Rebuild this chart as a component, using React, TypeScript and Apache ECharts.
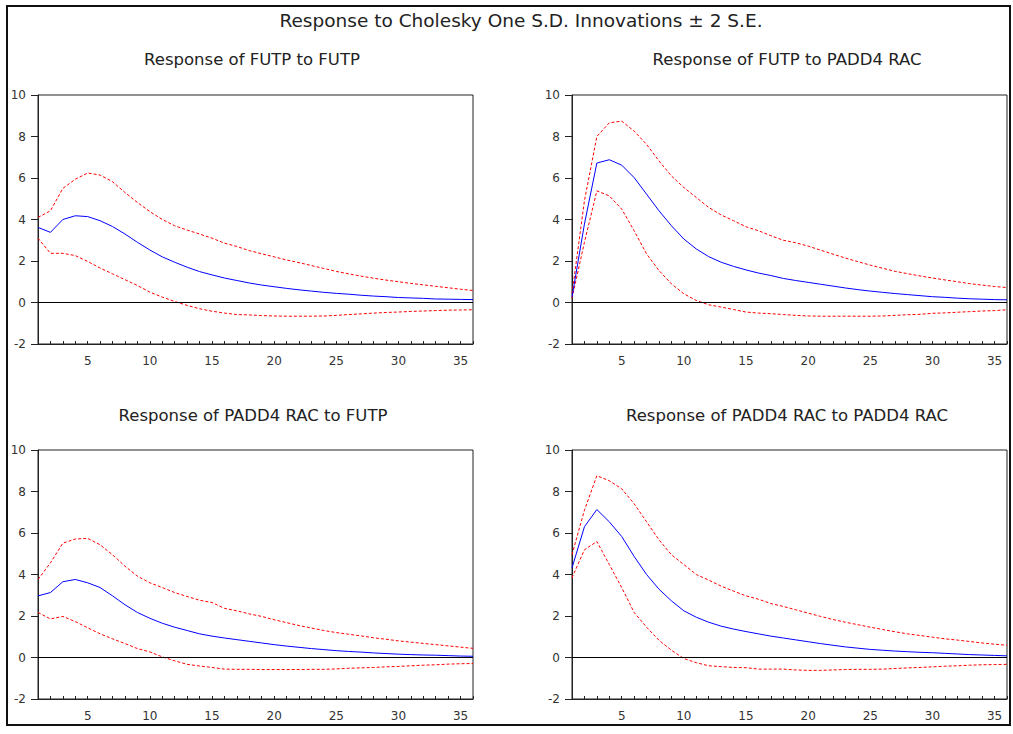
import React, { useEffect, useRef } from "react";
import * as echarts from "echarts";

const periods: number[] = Array.from({ length: 36 }, (_, i) => i + 1);

const mainTitle = "Response to Cholesky One S.D. Innovations \u00b1 2 S.E.";
const panelTitles = [
  "Response of FUTP to FUTP",
  "Response of FUTP to PADD4 RAC",
  "Response of PADD4 RAC to FUTP",
  "Response of PADD4 RAC to PADD4 RAC",
];

const futpFutp = [3.62, 3.38, 4.0, 4.18, 4.14, 3.94, 3.66, 3.3, 2.9, 2.53, 2.2, 1.94, 1.7, 1.49, 1.33, 1.18, 1.06, 0.94,
  0.84, 0.76, 0.68, 0.61, 0.55, 0.49, 0.44, 0.4, 0.35, 0.31, 0.28, 0.24, 0.22, 0.2, 0.17, 0.16, 0.15, 0.14];
const futpFutpUp = [4.1, 4.42, 5.5, 5.94, 6.24, 6.14, 5.82, 5.3, 4.82, 4.38, 4.0, 3.7, 3.49, 3.3, 3.1, 2.86, 2.7, 2.5,
  2.35, 2.2, 2.05, 1.92, 1.78, 1.64, 1.5, 1.38, 1.27, 1.17, 1.08, 1.0, 0.92, 0.85, 0.78, 0.71, 0.64, 0.58];
const futpFutpLo = [3.1, 2.37, 2.37, 2.26, 1.98, 1.66, 1.38, 1.1, 0.82, 0.5, 0.26, 0.05, -0.14, -0.3, -0.42, -0.51, -0.58, -0.6,
  -0.63, -0.65, -0.66, -0.66, -0.66, -0.65, -0.62, -0.58, -0.55, -0.51, -0.48, -0.46, -0.43, -0.41, -0.39, -0.37, -0.36, -0.35];

const futpRac = [0.26, 3.78, 6.72, 6.88, 6.62, 6.02, 5.22, 4.42, 3.7, 3.06, 2.58, 2.21, 1.94, 1.74, 1.57, 1.42, 1.3, 1.16,
  1.06, 0.97, 0.88, 0.79, 0.7, 0.62, 0.55, 0.49, 0.43, 0.38, 0.33, 0.28, 0.25, 0.21, 0.18, 0.16, 0.14, 0.13];
const futpRacUp = [0.42, 4.9, 8.0, 8.66, 8.74, 8.26, 7.62, 6.82, 6.1, 5.54, 5.06, 4.58, 4.22, 3.94, 3.65, 3.46, 3.22, 3.0,
  2.88, 2.72, 2.52, 2.33, 2.14, 1.97, 1.8, 1.65, 1.5, 1.39, 1.28, 1.18, 1.09, 1.0, 0.91, 0.84, 0.77, 0.72];
const futpRacLo = [0.2, 2.9, 5.38, 5.14, 4.5, 3.46, 2.34, 1.54, 0.9, 0.42, 0.1, -0.11, -0.22, -0.34, -0.46, -0.51, -0.54, -0.58,
  -0.62, -0.65, -0.66, -0.66, -0.66, -0.66, -0.66, -0.65, -0.62, -0.59, -0.57, -0.52, -0.5, -0.47, -0.44, -0.41, -0.39, -0.35];

const racFutp = [2.97, 3.13, 3.65, 3.76, 3.6, 3.37, 2.97, 2.54, 2.17, 1.89, 1.65, 1.46, 1.3, 1.14, 1.03, 0.94, 0.86, 0.78,
  0.7, 0.62, 0.55, 0.49, 0.43, 0.38, 0.33, 0.29, 0.26, 0.22, 0.19, 0.16, 0.14, 0.12, 0.11, 0.09, 0.07, 0.06];
const racFutpUp = [3.76, 4.56, 5.51, 5.71, 5.74, 5.43, 4.95, 4.4, 3.92, 3.6, 3.37, 3.13, 2.94, 2.76, 2.65, 2.37, 2.25, 2.1,
  1.98, 1.82, 1.68, 1.54, 1.42, 1.3, 1.2, 1.12, 1.04, 0.95, 0.88, 0.8, 0.74, 0.68, 0.62, 0.56, 0.5, 0.44];
const racFutpLo = [2.17, 1.86, 1.98, 1.73, 1.43, 1.14, 0.9, 0.67, 0.43, 0.27, 0.03, -0.16, -0.33, -0.41, -0.48, -0.56, -0.57, -0.57,
  -0.58, -0.58, -0.58, -0.58, -0.57, -0.57, -0.55, -0.52, -0.5, -0.48, -0.45, -0.43, -0.4, -0.37, -0.35, -0.32, -0.3, -0.29];

const racRac = [4.32, 6.3, 7.13, 6.54, 5.83, 4.87, 4.0, 3.29, 2.73, 2.25, 1.94, 1.7, 1.51, 1.37, 1.25, 1.14, 1.03, 0.94,
  0.85, 0.76, 0.67, 0.59, 0.51, 0.45, 0.39, 0.35, 0.31, 0.28, 0.25, 0.23, 0.2, 0.17, 0.14, 0.12, 0.1, 0.08];
const racRacUp = [4.95, 7.1, 8.76, 8.52, 8.13, 7.41, 6.54, 5.67, 4.95, 4.48, 4.0, 3.73, 3.44, 3.2, 2.97, 2.81, 2.6, 2.46,
  2.3, 2.14, 1.98, 1.83, 1.7, 1.58, 1.46, 1.35, 1.24, 1.14, 1.06, 0.98, 0.9, 0.84, 0.77, 0.7, 0.64, 0.59];
const racRacLo = [3.84, 5.19, 5.59, 4.48, 3.37, 2.17, 1.46, 0.83, 0.35, -0.05, -0.25, -0.4, -0.44, -0.48, -0.49, -0.56, -0.56, -0.56,
  -0.6, -0.62, -0.62, -0.6, -0.58, -0.57, -0.57, -0.56, -0.53, -0.5, -0.48, -0.45, -0.42, -0.4, -0.37, -0.35, -0.34, -0.33];

const yTicks = [-2, 0, 2, 4, 6, 8, 10];

const panels = [
  { resp: futpFutp, up: futpFutpUp, lo: futpFutpLo },
  { resp: futpRac, up: futpRacUp, lo: futpRacLo },
  { resp: racFutp, up: racFutpUp, lo: racFutpLo },
  { resp: racRac, up: racRacUp, lo: racRacLo },
];

const FONT = "'DejaVu Sans', Verdana, sans-serif";

export default function App() {
  const ref = useRef<HTMLDivElement>(null);
  useEffect(() => {
    if (!ref.current) return;
    const chart = echarts.init(ref.current, undefined, { renderer: "svg" });
    const gridPos = [
      { left: 38, top: 95 },
      { left: 572, top: 95 },
      { left: 38, top: 450 },
      { left: 572, top: 450 },
    ];
    const grids = gridPos.map((g) => ({
      left: g.left,
      top: g.top,
      width: 435,
      height: 249,
      show: true,
      borderColor: "#222",
      borderWidth: 1,
      backgroundColor: "transparent",
    }));
    const xAxes = gridPos.map((_, i) => ({
      type: "value",
      gridIndex: i,
      min: 1,
      max: 36,
      interval: 1,
      axisLine: { show: true, onZero: false, lineStyle: { color: "#222", width: 1 } },
      axisTick: { show: true, inside: true, length: 3, lineStyle: { color: "#222" } },
      axisLabel: {
        color: "#333",
        fontFamily: FONT,
        fontSize: 12,
        margin: 11,
        showMinLabel: true,
        showMaxLabel: true,
        formatter: (v: number) => (v % 5 === 0 ? String(v) : ""),
      },
      splitLine: { show: false },
    }));
    const yAxes = gridPos.map((_, i) => ({
      type: "value",
      gridIndex: i,
      min: yTicks[0],
      max: yTicks[yTicks.length - 1],
      interval: 2,
      axisLine: { show: true, onZero: false, lineStyle: { color: "#222", width: 1 } },
      axisTick: { show: true, inside: false, length: 7, lineStyle: { color: "#222" } },
      axisLabel: { color: "#333", fontFamily: FONT, fontSize: 12, margin: 12 },
      splitLine: { show: false },
    }));
    const series: any[] = [];
    panels.forEach((p, i) => {
      const mk = (arr: number[]) => periods.map((x, k) => [x, arr[k]]);
      series.push({
        type: "line",
        xAxisIndex: i,
        yAxisIndex: i,
        data: mk(p.up),
        showSymbol: false,
        lineStyle: { color: "#ff0000", width: 1, type: [3, 2] },
        silent: true,
      });
      series.push({
        type: "line",
        xAxisIndex: i,
        yAxisIndex: i,
        data: mk(p.lo),
        showSymbol: false,
        lineStyle: { color: "#ff0000", width: 1, type: [3, 2] },
        silent: true,
      });
      series.push({
        type: "line",
        xAxisIndex: i,
        yAxisIndex: i,
        data: mk(p.resp),
        showSymbol: false,
        lineStyle: { color: "#0000ff", width: 1 },
        silent: true,
        markLine: {
          silent: true,
          symbol: ["none", "none"],
          label: { show: false },
          lineStyle: { color: "#000", type: "solid", width: 1 },
          data: [{ yAxis: 0 }],
        },
      });
    });
    const titleCenters = [
      { x: 252, y: 59 },
      { x: 787, y: 59 },
      { x: 253, y: 415 },
      { x: 787, y: 415 },
    ];
    chart.setOption({
      animation: false,
      backgroundColor: "#ffffff",
      graphic: [
        {
          type: "rect",
          shape: { x: 7, y: 6, width: 1003, height: 719 },
          style: { fill: "none", stroke: "#111", lineWidth: 2 },
          silent: true,
        },
        {
          type: "text",
          x: 521,
          y: 20,
          style: {
            text: mainTitle,
            fontFamily: FONT,
            fontSize: 18.5,
            fill: "#222",
            textAlign: "center",
            textVerticalAlign: "middle",
          },
          silent: true,
        },
        ...panelTitles.map((t, i) => ({
          type: "text",
          x: titleCenters[i].x,
          y: titleCenters[i].y,
          style: {
            text: t,
            fontFamily: FONT,
            fontSize: 16.5,
            fill: "#222",
            textAlign: "center",
            textVerticalAlign: "middle",
          },
          silent: true,
        })),
      ],
      grid: grids,
      xAxis: xAxes,
      yAxis: yAxes,
      series,
    });
    return () => chart.dispose();
  }, []);
  return (
    <div
      ref={ref}
      style={{ position: "absolute", left: 0, top: 0, width: 1013, height: 734 }}
    />
  );
}
